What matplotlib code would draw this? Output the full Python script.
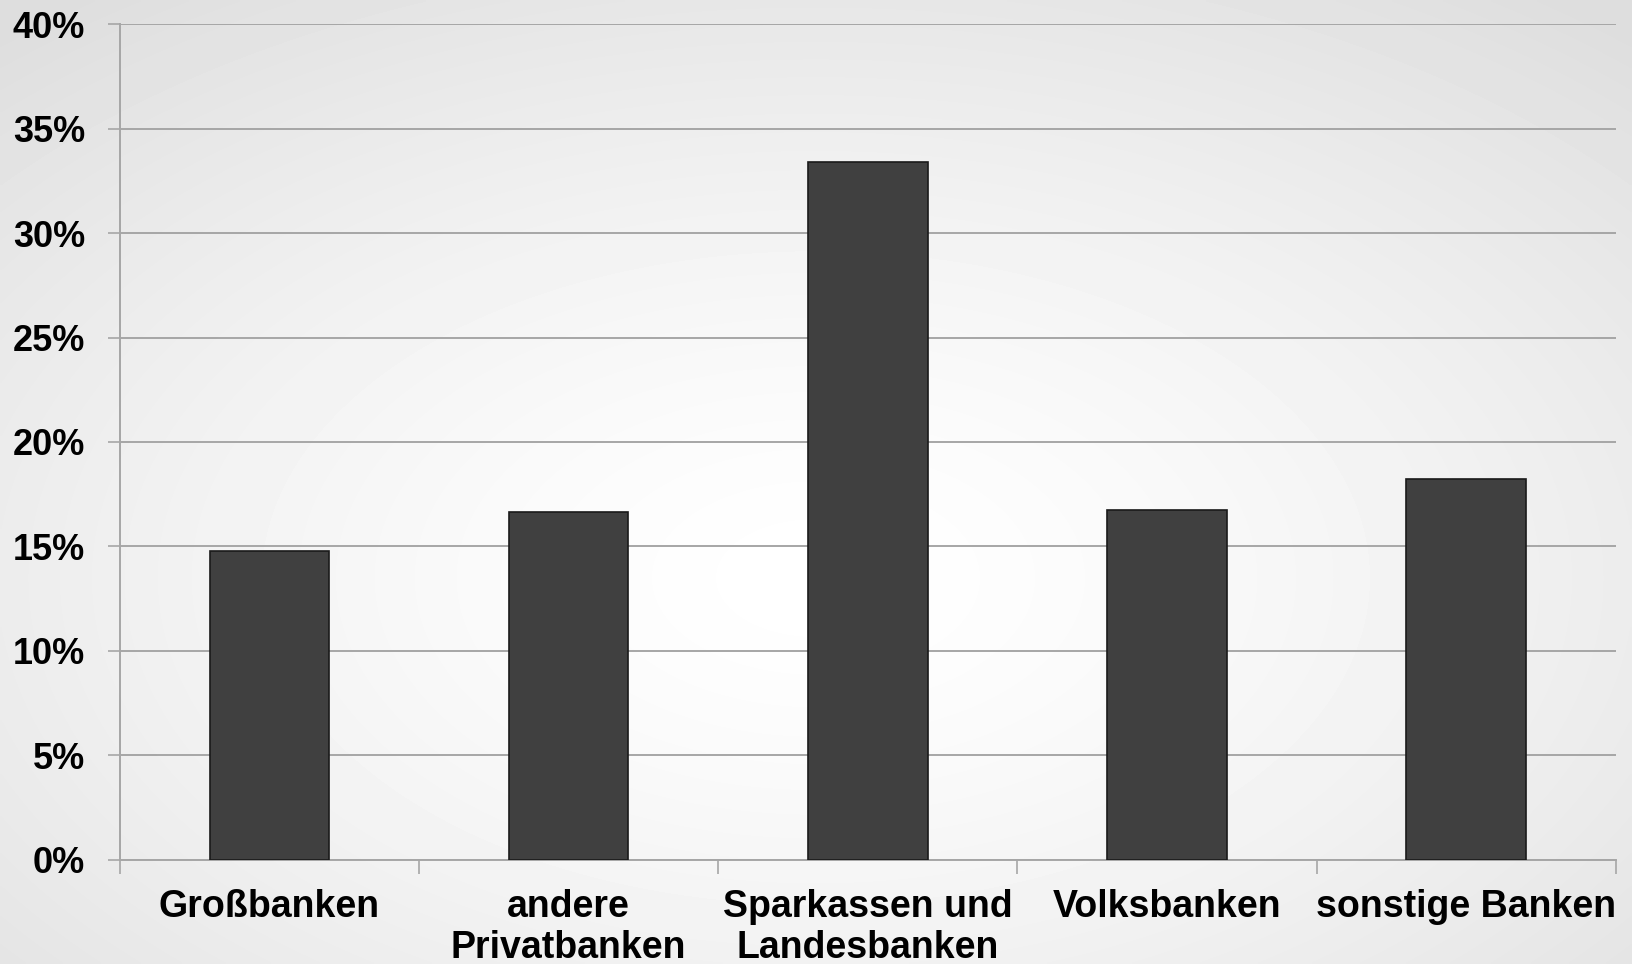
import numpy as np
import matplotlib.pyplot as plt
from matplotlib.ticker import FuncFormatter, FixedLocator

# --- Data ---
categories = ['Großbanken', 'andere\nPrivatbanken', 'Sparkassen und\nLandesbanken',
              'Volksbanken', 'sonstige Banken']
shares = [14.8, 16.65, 33.4, 16.75, 18.25]   # percent
y_ticks = [0, 5, 10, 15, 20, 25, 30, 35, 40]

plt.rcParams['font.family'] = ['Liberation Sans', 'DejaVu Sans']
plt.rcParams['font.weight'] = 'bold'

fig = plt.figure(figsize=(16.32, 9.64), dpi=100)

# radial grey-to-white background over the whole figure
bg = fig.add_axes([0, 0, 1, 1], zorder=-10)
yy, xx = np.mgrid[0:1:300j, 0:1:500j]
r = np.sqrt(((xx - 0.5) / 0.75) ** 2 + ((yy - 0.6) / 0.75) ** 2)
shade = 1.0 - 0.13 * np.clip(r, 0, 1) ** 1.4
bg.imshow(shade, cmap='gray', vmin=0, vmax=1, aspect='auto', extent=[0, 1, 0, 1],
          interpolation='bilinear')
bg.axis('off')

ax = fig.add_axes([0.0735, 0.108, 0.9165, 0.867])
ax.patch.set_alpha(0)

x = np.arange(len(categories))
ax.bar(x, shares, width=0.40, color='#404040', edgecolor='#1a1a1a', linewidth=1.2, zorder=3)

ax.set_xlim(-0.5, len(categories) - 0.5)
ax.set_ylim(0, 40)
ax.set_yticks(y_ticks)
ax.yaxis.set_major_formatter(FuncFormatter(lambda v, p: f'{v:.0f}%'))
ax.yaxis.grid(True, color='#a6a6a6', linewidth=1.4, zorder=0)

# x ticks at category boundaries, labels centred under the bars
ax.xaxis.set_major_locator(FixedLocator(np.arange(-0.5, len(categories), 1.0)))
ax.xaxis.set_major_formatter(FuncFormatter(lambda v, p: ''))
ax.set_xticks(x, minor=True)
ax.set_xticklabels(categories, minor=True, fontsize=27, fontweight='bold', linespacing=1.17)
ax.tick_params(axis='x', which='minor', length=0, pad=21)
ax.tick_params(axis='x', which='major', length=10, width=1.2, color='#a6a6a6', direction='out')
ax.tick_params(axis='y', length=9, width=1.2, color='#a6a6a6', labelsize=26, pad=16)
for lab in ax.get_yticklabels():
    lab.set_fontweight('bold')

for side in ['top', 'right']:
    ax.spines[side].set_visible(False)
for side in ['left', 'bottom']:
    ax.spines[side].set_color('#a6a6a6')
    ax.spines[side].set_linewidth(1.4)

fig.savefig('out.png', dpi=100)
